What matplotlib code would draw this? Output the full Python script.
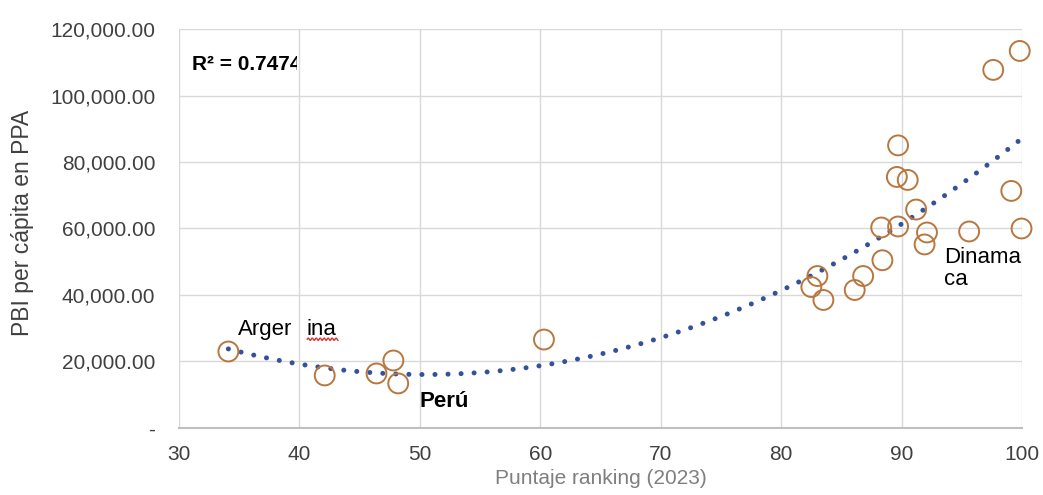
import numpy as np
import matplotlib
matplotlib.use("Agg")
import matplotlib.pyplot as plt
from matplotlib.ticker import FuncFormatter
from matplotlib.patches import Rectangle

plt.rcParams['font.family'] = ['Liberation Sans', 'DejaVu Sans']

# Data: ranking score (2023) vs GDP per capita PPP
puntaje = [34.1, 42.1, 46.4, 47.8, 48.2, 60.3,
           82.5, 83.0, 83.5, 86.1, 86.8, 88.3, 88.4, 89.6, 89.7, 89.7,
           90.5, 91.2, 91.9, 92.1, 95.6, 97.6, 99.1, 99.8, 99.95]
pbi = [23000, 15800, 16400, 20300, 13400, 26600,
       42400, 45700, 38500, 41500, 45700, 60300, 50450, 75500, 85000, 60600,
       74600, 65700, 55200, 58800, 59100, 107700, 71300, 113400, 60000]

x_ticks = [30, 40, 50, 60, 70, 80, 90, 100]
y_ticks = [0, 20000, 40000, 60000, 80000, 100000, 120000]

x = np.array(puntaje)
y = np.array(pbi)
coef = np.polyfit(x, y, 2)
xf = np.linspace(x.min(), x.max(), 300)
yf = np.polyval(coef, xf)

fig = plt.figure(figsize=(10.43, 4.95), dpi=100)
ax = fig.add_axes([0.1716, 0.1354, 0.8084, 0.806])

ax.set_xlim(30, 100)
ax.set_ylim(0, 120000)
ax.set_xticks(x_ticks)
ax.set_yticks(y_ticks)

ax.grid(True, color='#D9D9D9', linewidth=1.0, zorder=0)
for s in ['top', 'right', 'left']:
    ax.spines[s].set_visible(False)
ax.spines['bottom'].set_color('#BFBFBF')
ax.spines['bottom'].set_linewidth(1.5)

def yfmt(v, pos):
    if abs(v) < 1e-6:
        return '-'
    return f'{v:,.2f}'
ax.yaxis.set_major_formatter(FuncFormatter(yfmt))
ax.tick_params(axis='both', length=0, labelsize=15, labelcolor='#404040')
ax.tick_params(axis='y', pad=17)
ax.tick_params(axis='x', pad=12)

ax.plot(xf, yf, color='#34519A', linewidth=3.6,
        linestyle=(0, (0.01, 2.6)), dash_capstyle='round', zorder=3)

ax.scatter(x, y, s=205, facecolors='none', edgecolors='#B8773F',
           linewidths=1.4, zorder=4, clip_on=False)

ax.set_xlabel('Puntaje ranking (2023)', fontsize=15, color='#7F7F7F', labelpad=4)
ax.set_ylabel('PBI per cápita en PPA', fontsize=16.5, color='#404040')
ax.yaxis.set_label_coords(-0.172, 0.515)

t = ax.text(31.1, 109200, 'R² = 0.7474', fontsize=15, fontweight='bold',
            color='#000000', va='center', ha='left', zorder=5, clip_on=True)
clip = Rectangle((30, 100000), 9.8, 20000, transform=ax.transData,
                 facecolor='none', edgecolor='none')
ax.add_patch(clip)
t.set_clip_path(clip)

ax.text(34.9, 29600, 'Arger', fontsize=16, color='#000000', va='center', ha='left', zorder=5)
ax.text(40.6, 29600, 'ina', fontsize=16, color='#000000', va='center', ha='left', zorder=5)
# spell-check squiggle under "ina"
wx = np.linspace(40.65, 43.2, 60)
wy = 26700 + 350 * np.sin((wx - 40.65) / 0.33 * 2 * np.pi)
ax.plot(wx, wy, color='#E03030', linewidth=1.0, zorder=5)

ax.text(50.0, 8000, 'Perú', fontsize=16, fontweight='bold', color='#000000',
        va='center', ha='left', zorder=5)
ax.text(93.5, 48000, 'Dinama\nca', fontsize=16, color='#000000',
        va='center', ha='left', linespacing=1.1, zorder=5, clip_on=True)

fig.savefig('out.png', dpi=100, facecolor='white')
